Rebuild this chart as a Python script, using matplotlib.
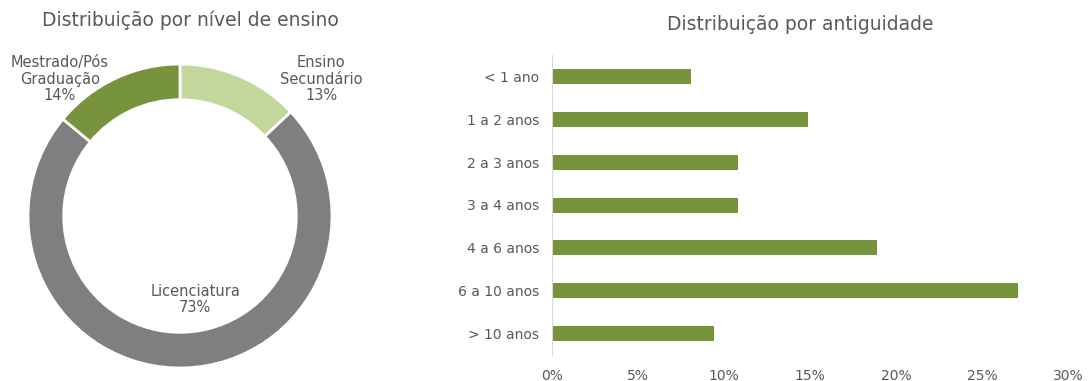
import matplotlib
matplotlib.use('Agg')
from matplotlib import pyplot as plt
from matplotlib.ticker import FuncFormatter

# donut: nivel de ensino
niveis = ['Ensino\nSecundário', 'Licenciatura', 'Mestrado/Pós\nGraduação']
niveis_pct = [13, 73, 14]
niveis_cores = ['#C3D69B', '#7F7F7F', '#77933C']

# barras: antiguidade
antig = ['< 1 ano', '1 a 2 anos', '2 a 3 anos', '3 a 4 anos', '4 a 6 anos', '6 a 10 anos', '> 10 anos']
antig_pct = [8.1, 14.9, 10.8, 10.8, 18.9, 27.1, 9.4]

txt = '#595959'
plt.rcParams['font.family'] = ['DejaVu Sans']

fig = plt.figure(figsize=(10.9, 3.81), dpi=100)

# --- donut
ax1 = fig.add_axes([28/1090, 13/381, 304/1090, 304/381])
ax1.pie(niveis_pct, colors=niveis_cores, startangle=90, counterclock=False,
        radius=1, wedgeprops=dict(width=0.235, edgecolor='white', linewidth=2))
ax1.set_xlim(-1, 1)
ax1.set_ylim(-1, 1)
ax1.axis('off')

pos = [(0.93, 0.9), (0.1, -0.55), (-0.79, 0.9)]
for nome, v, (x, y) in zip(niveis, niveis_pct, pos):
    ax1.text(x, y, nome + '\n' + str(v) + '%', ha='center', va='center',
             fontsize=10.5, color=txt, clip_on=False, linespacing=1.15)

fig.text(190/1090, 1 - 20/381, 'Distribuição por nível de ensino', ha='center', va='center',
         fontsize=13.5, color=txt)

# --- barras
ax2 = fig.add_axes([552/1090, 26/381, 516/1090, 300/381])
ax2.barh(range(len(antig)), antig_pct, height=0.35, color='#77933C')
ax2.set_ylim(len(antig) - 0.5, -0.5)
ax2.set_xlim(0, 30)
ax2.set_xticks(range(0, 31, 5))
ax2.xaxis.set_major_formatter(FuncFormatter(lambda v, p: '%d%%' % v))
ax2.set_yticks(range(len(antig)))
ax2.set_yticklabels(antig)
for s in ['top', 'right', 'bottom']:
    ax2.spines[s].set_visible(False)
ax2.spines['left'].set_color('#D9D9D9')
ax2.tick_params(length=0, colors=txt, labelsize=10)
ax2.tick_params(axis='y', pad=9)
ax2.tick_params(axis='x', pad=10)

fig.text(800/1090, 1 - 25/381, 'Distribuição por antiguidade', ha='center', va='center',
         fontsize=13.5, color=txt)

fig.savefig('out.png', dpi=100)
